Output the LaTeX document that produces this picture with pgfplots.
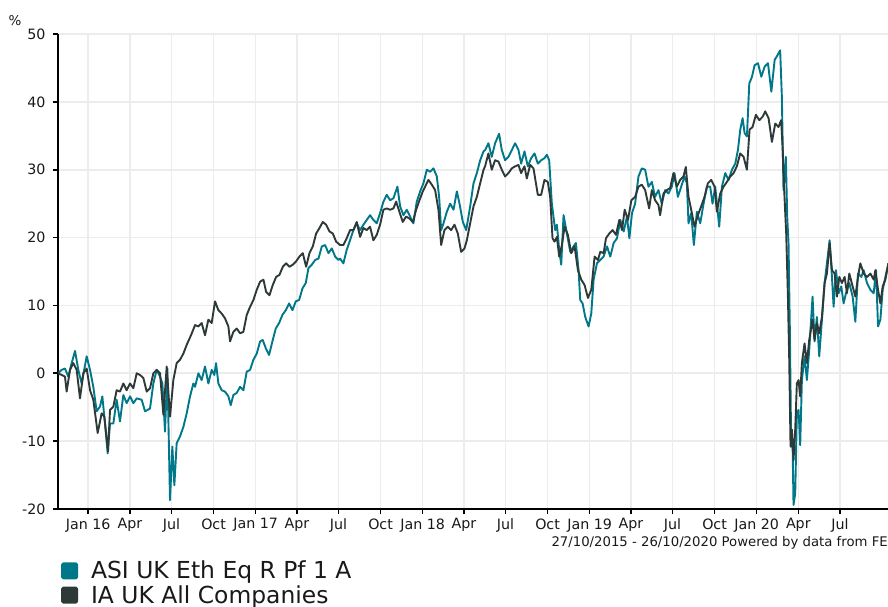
\documentclass[border=0pt]{standalone}
\usepackage{pgfplots}
\pgfplotsset{compat=1.18}
\usepackage{pgfplotstable}
\usepackage{fontspec}
\setmainfont{DejaVu Sans}
\definecolor{asiteal}{RGB}{0,120,138}
\definecolor{iadark}{RGB}{46,58,56}
\definecolor{gridgray}{RGB}{236,236,236}

% day = days since 27/10/2015, val = cumulative % change
\pgfplotstableread{
day val
0 0
8 0.5
15.3 0.7
22.6 -0.5
29.9 1.5
37.2 3.3
44.4 0.5
51.7 -1.5
62.7 2.5
70 0.5
77.2 -2.0
84.5 -5.6
91.8 -4.9
96.9 -3.4
102.7 -7.4
108.6 -11.8
113.7 -7.4
121 -7.4
128.2 -3.9
135.5 -7.1
142.8 -3.2
150.1 -4.4
157.4 -3.4
164.7 -4.4
172 -3.7
182.9 -3.9
190.2 -5.6
201.1 -5.2
208.4 -1.5
215.7 0.5
223 -0.5
228.1 -1.5
233.9 -8.6
239 0.7
244.8 -18.7
249.9 -10.8
254.3 -16.5
259.4 -10.3
266.7 -9.3
274 -7.9
281.3 -5.9
288.6 -3.4
295.8 -1.5
299.5 -2.0
306.8 0
314 -1.0
321.3 1.0
328.6 -1.5
335.9 0.5
341.7 -0.25
345.4 1.5
350.5 -1.5
357.8 -2.5
365 -2.7
372.4 -3.4
377.5 -4.7
383.3 -3.2
390.6 -2.9
397.9 -2.0
405.2 -2.5
412.5 0.25
419.8 0.5
427.1 2.0
434.4 2.9
441.7 4.7
447.5 4.9
454.1 3.7
461.3 2.7
468.6 4.7
475.9 6.6
483.2 7.4
490.5 8.6
497.8 9.3
505.1 10.3
512.4 9.3
519.7 10.6
527 10.8
534.2 12.5
541.5 13.3
547.4 15.5
554.7 16.0
562 16.7
569.3 16.9
576.6 18.7
583.8 18.9
591.1 17.7
598.4 18.4
605.7 17.2
613 16.7
616.5 16.9
623.7 16.2
631 18.2
638.3 19.6
645.6 21.1
652.9 22.1
660.2 21.1
667.5 21.9
674.8 22.6
682 23.3
689.3 22.6
696.6 22.1
703.9 23.6
711.2 25.3
718.5 26.3
725.8 25.5
733.1 25.8
741.8 27.5
747.7 24.6
755 23.3
762.2 24.1
769.5 23.1
776.8 22.1
784.1 25.3
791.4 26.8
798.7 28.0
806 30.0
813.3 29.7
820.6 30.2
827.9 29.0
833 26.0
837.4 21.1
842.5 22.1
849.8 23.8
857.1 25.0
864.4 24.1
871.7 26.8
877.5 25.0
884.8 22.3
892.1 21.1
900.8 24.6
908.1 28.0
915.4 29.5
922.7 31.4
930 32.7
933.4 32.9
940.7 33.9
948 31.9
955.3 33.9
964 35.3
969.9 32.9
977.2 31.4
984.5 31.9
991.8 32.9
999.1 33.9
1006.4 32.9
1012.2 30.9
1019.5 32.7
1026.8 30.5
1034.1 31.7
1041.4 32.4
1048.7 30.9
1056 31.4
1063.2 31.7
1068.4 32.2
1073.5 31.4
1079.3 25.0
1086.6 21.1
1090.3 21.9
1095.4 18.2
1099.8 16.0
1104.9 23.3
1112.2 20.6
1119.5 17.9
1126.8 18.7
1131.9 19.2
1137.7 15.2
1141.4 10.8
1146.5 10.3
1152.3 8.3
1159.6 6.9
1165.5 8.8
1170.6 13.8
1177.9 16.2
1185.2 16.7
1192.5 17.2
1199.8 18.7
1207.1 17.2
1214.4 19.2
1221.7 19.9
1229 22.6
1236.3 20.9
1243.6 23.1
1248.7 19.9
1254.5 23.6
1261.3 25.0
1268.6 29.0
1275.9 30.2
1283.2 30.0
1290.5 27.5
1297.8 28.2
1305 26.0
1312.3 27.0
1319.6 25.0
1326.9 27.0
1334.2 26.5
1341.5 27.5
1347.4 29.5
1354.7 26.0
1362 27.5
1369.3 29.0
1374.4 28.0
1378 22.1
1383.9 23.6
1389.7 18.9
1396.3 23.8
1403.6 22.1
1410.9 25.0
1418.1 27.5
1425.4 27.5
1430.5 25.0
1436.4 27.5
1445.1 21.6
1451 27.5
1458.3 29.5
1465.6 28.5
1472.9 30.0
1480.2 30.9
1486 32.9
1491.1 35.9
1496.2 37.6
1500.6 35.4
1505.7 34.9
1510.8 42.7
1516.7 43.7
1522.5 45.4
1529.8 45.7
1537.1 43.7
1544.4 45.2
1551.7 45.7
1559 41.5
1566.3 46.2
1571 46.7
1578.3 47.6
1582 40.8
1585.6 27.0
1590.7 31.9
1593.7 23.1
1596.6 19.2
1599.5 6.4
1602.4 -10.8
1605.3 -9.8
1607.5 -19.4
1611.2 -17.7
1614.8 -5.9
1618.5 -5.4
1622.1 -10.6
1625.8 -1.0
1631.6 2.5
1636.7 -1.0
1641.8 3.4
1649.1 11.3
1653.5 4.7
1658.6 8.3
1663.7 2.5
1669.6 7.9
1675.4 13.3
1680.5 16.2
1686.4 19.6
1691.5 14.2
1695.1 9.8
1700.2 15.2
1706.1 11.8
1711.9 12.8
1717 10.3
1722.1 11.8
1729.4 13.3
1736.7 11.3
1742.6 7.6
1748.4 14.7
1755.7 14.2
1760.8 15.2
1768.1 13.3
1775.4 12.3
1782.7 11.8
1787.8 15.2
1792.2 6.9
1797.3 7.9
1802.4 12.3
1808.3 14.2
1814.9 16.2
}\asi

\pgfplotstableread{
day val
0 0
8 -0.25
15.3 -0.5
18.9 -2.7
26.2 0.5
33.5 1.5
40.8 0.5
48.1 -3.7
55.4 0
62.7 0.7
70 -2.5
77.2 -3.9
86.7 -8.8
95.4 -5.9
101.3 -6.4
109.3 -11.5
113.7 -5.4
121 -4.9
128.2 -2.5
135.5 -2.7
142.8 -1.5
150.1 -2.5
157.4 -1.5
164.7 -2.2
172 0
179.3 -0.25
186.6 -0.7
193.9 -2.7
201.1 -2.2
208.4 0
215.7 0.5
223 0
230.3 -6.1
237.6 1.0
244.8 -6.4
252.1 -1.0
259.4 1.5
266.7 2.0
274 2.9
281.3 4.2
290 5.5
299.5 7.1
306.8 6.9
314 7.4
321.3 5.6
328.6 7.9
335.9 7.4
343.2 10.6
350.5 9.3
357.8 8.8
365 8.1
372.4 6.9
376 4.7
383.3 6.1
390.6 6.6
397.9 5.9
405.2 6.1
412.5 8.6
419.8 9.8
427.1 10.8
434.4 12.3
441.7 13.5
449 13.8
454.8 12.0
462.1 11.5
469.4 13.0
476.7 14.2
484 14.5
491.3 15.7
498.6 16.2
505.8 15.7
513.1 16.0
520.4 16.5
527.7 17.2
535 17.7
542.3 15.7
549.6 17.7
556.9 18.7
564.2 20.6
571.4 21.4
578.7 22.3
586 21.9
593.3 20.9
600.6 20.6
607.9 19.4
616.5 18.9
623.7 18.9
631 19.9
638.3 21.1
645.6 21.1
652.9 22.3
660.2 20.1
667.5 21.4
674.8 21.1
682 21.6
689.3 19.6
696.6 20.4
703.9 21.9
711.2 24.1
718.5 24.3
725.8 24.1
733.1 24.3
739 25.3
746.2 23.8
753.5 22.3
760.8 23.1
768.1 22.8
775.4 22.3
782.7 24.1
790 25.5
797.2 26.8
804.5 27.8
809.6 28.5
816.9 27.8
824.2 27.0
831.5 24.1
837.4 18.9
844.6 21.1
851.9 21.6
859.2 21.1
866.5 21.9
873.8 20.6
881.1 17.9
888.4 18.4
893.5 19.6
900.8 22.1
908.1 24.6
915.4 26.0
922.7 28.0
930 30.0
933.4 30.5
940.7 32.4
948 30.0
955.3 31.4
962.6 31.2
969.9 30.0
977.2 29.0
984.5 29.5
991.8 30.2
999.1 30.5
1006.4 30.7
1012.2 29.5
1019.5 30.5
1024.6 28.7
1031.9 30.7
1039.2 30.2
1048.7 26.3
1056 26.3
1063.2 28.5
1070.5 28.2
1075.6 26.0
1080.8 19.9
1085.2 19.4
1090.3 20.1
1095.4 17.2
1101.3 18.9
1107.1 21.6
1114.4 20.4
1121.7 17.7
1129 18.7
1136.3 15.2
1143.6 13.8
1150.9 13.0
1158.2 11.1
1165.5 12.3
1172.8 17.2
1180.1 16.7
1185.2 17.9
1192.5 17.7
1197.6 19.9
1204.9 20.6
1212.2 21.1
1219.5 20.4
1226.8 22.6
1232.6 21.1
1238.5 24.1
1245.8 22.6
1253.1 25.5
1261.3 26.0
1268.6 27.5
1275.9 27.8
1283.2 27.0
1292 24.3
1297.8 27.0
1305 25.5
1312.3 24.8
1316 23.3
1323.3 26.5
1330.6 27.0
1337.9 27.3
1345.1 29.5
1352.4 27.5
1359.7 28.5
1367 29.0
1372.1 30.4
1378 26.0
1383.9 24.1
1391.1 21.6
1398.4 23.3
1405.7 24.6
1413 26.0
1420.3 28.0
1427.6 28.5
1434.9 27.5
1440 23.8
1447.3 26.5
1454.6 27.5
1461.9 28.2
1469.2 29.0
1476.4 29.5
1483.7 30.5
1491 32.4
1498.3 31.9
1505.6 30.0
1511.4 35.9
1518 36.3
1525.3 38.1
1532.6 37.3
1539.9 37.8
1545.7 38.6
1553 37.6
1560.3 34.1
1567.6 36.8
1574.7 36.3
1580.5 37.3
1583.5 33.4
1587.8 26.0
1591.5 20.6
1595.1 11.8
1598 2.5
1601 -10.8
1603.9 -8.3
1607.5 -12.8
1611.2 -8.3
1614.8 -1.5
1618.5 -1.0
1622.1 -3.4
1625.8 1.5
1631.6 4.4
1636.7 1.5
1641.8 4.9
1649.1 7.9
1653.5 4.9
1658.6 7.4
1663.7 5.9
1669.6 8.3
1675.4 13.3
1680.5 14.7
1686.4 19.2
1691.5 15.2
1697.3 14.7
1702.4 11.3
1707.5 14.2
1713.4 13.3
1719.2 14.2
1724.3 11.8
1729.4 14.7
1736.7 12.8
1742.6 11.3
1748.4 14.2
1753.5 16.2
1760.8 14.7
1768.1 14.2
1775.4 14.7
1782.7 13.8
1786.4 15.2
1792.2 12.3
1797.3 10.3
1802.4 12.8
1808.3 13.8
1814.9 16.2
}\ia

\begin{document}
\begin{tikzpicture}
\begin{axis}[
  at={(0,0)}, anchor=south west,
  scale only axis, width=830bp, height=475bp,
  xmin=0, xmax=1814, ymin=-20, ymax=50,
  axis x line=bottom, axis y line=left,
  axis line style={-, line width=1.6bp, black},
  xtick={66,157,248,340,432,522,613,705,797,887,978,1070,1162,1252,1343,1435,1527,1618,1709},
  xticklabels={Jan 16,Apr,Jul,Oct,Jan 17,Apr,Jul,Oct,Jan 18,Apr,Jul,Oct,Jan 19,Apr,Jul,Oct,Jan 20,Apr,Jul},
  ytick={-20,-10,0,10,20,30,40,50},
  yticklabels={-20,-10,0,10,20,30,40,50},
  tick align=outside, major tick length=5bp,
  tick style={black, line width=1.6bp},
  xmajorgrids, ymajorgrids,
  major grid style={gridgray, line width=1.6bp},
  ticklabel style={font=\fontsize{14.3}{17}\selectfont, text=black!90},
  yticklabel style={xshift=-4bp},
  xticklabel style={yshift=-1bp},
  clip=true,
  legend style={at={(0,0)}, anchor=north west, xshift=3bp, yshift=-50bp,
    draw=none, fill=none, inner sep=0pt, row sep=1bp,
    font=\fontsize{23.5}{26}\selectfont, text=black!90,
    /tikz/every odd column/.append style={column sep=11bp}},
  legend cell align=left,
  legend image code/.code={\fill[#1, rounded corners=1.2bp] (0bp,-7.5bp) rectangle (15bp,7.5bp);},
]
\addplot[asiteal, line width=1.9bp, line join=round] table[x=day,y=val]{\asi};
\addplot[iadark, line width=1.9bp, line join=round] table[x=day,y=val]{\ia};
\legend{ASI UK Eth Eq R Pf 1 A, IA UK All Companies}
\end{axis}
\node[anchor=base east, font=\fontsize{13.3}{15}\selectfont, text=black!90, inner sep=0pt] at (830bp,-37bp) {27/10/2015 - 26/10/2020 Powered by data from FE};
\node[font=\fontsize{13.5}{15}\selectfont, text=black!90, inner sep=0pt] at (-43bp,488bp) {\%};
\pgfresetboundingbox
\path[use as bounding box] (-58bp,-98bp) rectangle (830bp,509bp);
\end{tikzpicture}
\end{document}
